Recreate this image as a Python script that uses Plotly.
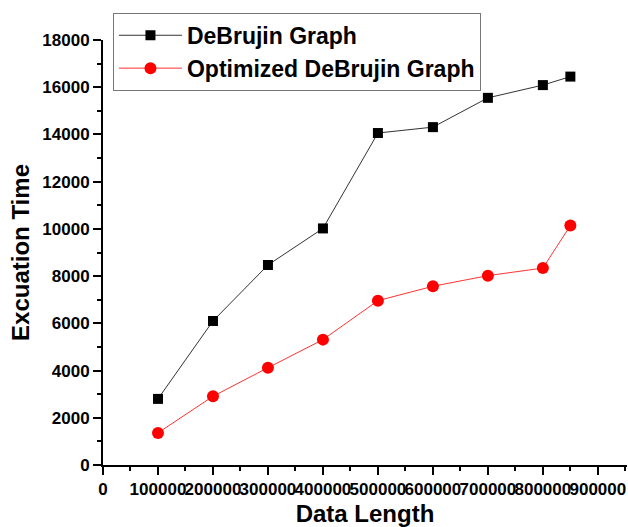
import plotly.graph_objects as go

data_length = [100000, 200000, 300000, 400000, 500000, 600000, 700000, 800000, 850000]
debrujin = [2800, 6100, 8470, 10020, 14060, 14310, 15550, 16090, 16450]
optimized = [1360, 2910, 4120, 5310, 6960, 7570, 8020, 8340, 10140]
x_ticks = [0, 100000, 200000, 300000, 400000, 500000, 600000, 700000, 800000, 900000]
y_ticks = [0, 2000, 4000, 6000, 8000, 10000, 12000, 14000, 16000, 18000]

FONT = "Liberation Sans, Arial, sans-serif"

fig = go.Figure()
fig.add_trace(go.Scatter(
    x=data_length, y=debrujin, mode="lines+markers", name="DeBrujin Graph",
    line=dict(color="#333333", width=1),
    marker=dict(symbol="square", size=10, color="black"),
))
fig.add_trace(go.Scatter(
    x=data_length, y=optimized, mode="lines+markers", name="Optimized DeBrujin Graph",
    line=dict(color="#ff3333", width=1),
    marker=dict(symbol="circle", size=12, color="red"),
))

axis_common = dict(
    showline=True, linecolor="black", linewidth=2, mirror=False,
    ticks="outside", ticklen=8, tickwidth=2, tickcolor="black",
    showgrid=False, zeroline=False, automargin=False,
    tickfont=dict(family=FONT, size=17, color="black", weight="bold"),
)

fig.update_xaxes(
    range=[0, 953000], tickvals=x_ticks, ticktext=[str(v) for v in x_ticks],
    tickangle=0,
    minor=dict(ticks="outside", ticklen=4, tickwidth=2, tickcolor="black", dtick=50000, tick0=0),
    title=dict(text="Data Length", font=dict(family=FONT, size=24, color="black", weight="bold"), standoff=12),
    **axis_common,
)
fig.update_yaxes(
    range=[0, 18000], tickvals=y_ticks, ticktext=[str(v) for v in y_ticks],
    minor=dict(ticks="outside", ticklen=4, tickwidth=2, tickcolor="black", dtick=1000, tick0=0),
    title=dict(text="Excuation Time", font=dict(family=FONT, size=24, color="black", weight="bold"), standoff=6),
    **axis_common,
)

fig.update_layout(
    width=628, height=527,
    margin=dict(l=103, r=1, t=40, b=62),
    plot_bgcolor="white", paper_bgcolor="white",
    legend=dict(
        x=0.019, y=1.064, xanchor="left", yanchor="top",
        bordercolor="#777777", borderwidth=1, bgcolor="white",
        font=dict(family=FONT, size=23, color="black", weight="bold"),
        itemwidth=63, tracegroupgap=0,
    ),
    showlegend=True,
)

fig.write_html("out.html")
